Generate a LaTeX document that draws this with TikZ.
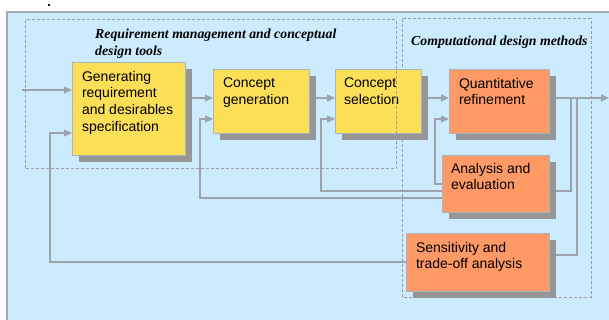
\documentclass[tikz,border=0pt]{standalone}
\usepackage{fontspec}
\setmainfont{Liberation Sans}
\newfontfamily\titlefont{Liberation Serif}
\usetikzlibrary{arrows.meta,shadows}

\definecolor{paneblue}{HTML}{CCEBFF}
\definecolor{paneedge}{HTML}{A4A9AD}
\definecolor{boxyellow}{HTML}{FBDF57}
\definecolor{boxorange}{HTML}{FF9966}
\definecolor{boxedge}{HTML}{A9B4BC}
\definecolor{shadowgray}{HTML}{969696}
\definecolor{wire}{HTML}{9DA3A8}
\definecolor{dashgray}{HTML}{9A9EA2}

\pgfdeclarelayer{bg}
\pgfdeclarelayer{lines}
\pgfdeclarelayer{fg}
\pgfsetlayers{bg,lines,main,fg}

\tikzset{
  blockbase/.style={draw=boxedge, line width=0.8pt, anchor=north west,
    inner sep=0pt, outer sep=0pt,
    general shadow={fill=shadowgray, shadow xshift=7pt, shadow yshift=-7pt}},
  ybox/.style={blockbase, fill=boxyellow},
  obox/.style={blockbase, fill=boxorange},
  btext/.style={anchor=north west, inner sep=0pt, outer sep=0pt, align=left,
    font=\fontsize{14}{16.7}\selectfont},
  grouptitle/.style={anchor=north west, inner sep=0pt, align=left,
    font=\titlefont\bfseries\itshape\fontsize{13.8}{17}\selectfont},
  groupframe/.style={draw=dashgray, line width=1pt, dash pattern=on 3pt off 2pt},
  wireline/.style={draw=wire, line width=1.2pt},
  flow/.style={wireline, -{Triangle[length=8pt,width=7pt]}},
}

\begin{document}
\begin{tikzpicture}[x=1pt,y=-1pt]
\useasboundingbox (0,0) rectangle (609,320);
\clip (0,0) rectangle (609,320);

% pane and the computational group frame
\begin{pgfonlayer}{bg}
  \fill[paneblue] (7,12) rectangle (615,326);
  \draw[paneedge, line width=1.5pt] (7,326) -- (7,12) -- (615,12);
  \draw[groupframe] (402,19) rectangle (591,297);
\end{pgfonlayer}
\node[inner sep=0pt, font=\bfseries\fontsize{14}{14}\selectfont] (mark) at (49,5) {.};

% requirement group frame, drawn over the blocks
\begin{pgfonlayer}{fg}
  \draw[groupframe] (25,20) rectangle (396,169);
\end{pgfonlayer}

\node[grouptitle] (reqT) at (95,29) {Requirement management and conceptual\\design tools};
\node[grouptitle] (compT) at (411,36) {Computational design methods};

% blocks
\node[ybox, minimum width=113pt, minimum height=93pt] (gen) at (72,62) {};
\node[ybox, minimum width=96pt, minimum height=64pt] (cgen) at (213,69) {};
\node[ybox, minimum width=86pt, minimum height=64pt] (csel) at (335,69) {};
\node[obox, minimum width=100pt, minimum height=64pt] (qref) at (449,69) {};
\node[obox, minimum width=107pt, minimum height=57pt] (anev) at (442,155) {};
\node[obox, minimum width=143pt, minimum height=58pt] (sens) at (406,233) {};

\node[btext] (genT) at (82,71) {Generating\\requirement\\and desirables\\specification};
\node[btext] (cgenT) at (223,78) {Concept\\generation};
\node[btext] (cselT) at (344,78) {Concept\\selection};
\node[btext] (qrefT) at (459,78) {Quantitative\\refinement};
\node[btext] (anevT) at (451,163) {Analysis and\\evaluation};
\node[btext] (sensT) at (416,242) {Sensitivity and\\trade-off analysis};

% connectors
\coordinate (inp) at (22,90);
\coordinate (outp) at (609,98);
\begin{pgfonlayer}{lines}
  \draw[flow] (inp) -- (inp -| gen.west);
  \draw[flow] (gen.east |- 0,98) -- (cgen.west |- 0,98);
  \draw[flow] (cgen.east |- 0,98) -- (csel.west |- 0,98);
  \draw[flow] (csel.east |- 0,98) -- (qref.west |- 0,98);
  \draw[flow] (qref.east |- 0,98) -- (outp);
  % loop through analysis and evaluation
  \draw[wireline] (571,98) -- (571,191) -- (anev.east |- 0,191);
  \draw[flow] (anev.west |- 0,184) -- (435,184) -- (435,119) -- (qref.west |- 0,119);
  \draw[flow] (anev.west |- 0,191) -- (321,191) -- (321,119) -- (csel.west |- 0,119);
  \draw[flow] (anev.west |- 0,198) -- (200,198) -- (200,119) -- (cgen.west |- 0,119);
  % loop through sensitivity and trade-off analysis
  \draw[wireline] (577,98) -- (577,255) -- (sens.east |- 0,255);
  \draw[flow] (sens.west |- 0,262) -- (50,262) -- (50,133) -- (gen.west |- 0,133);
\end{pgfonlayer}
\end{tikzpicture}
\end{document}
